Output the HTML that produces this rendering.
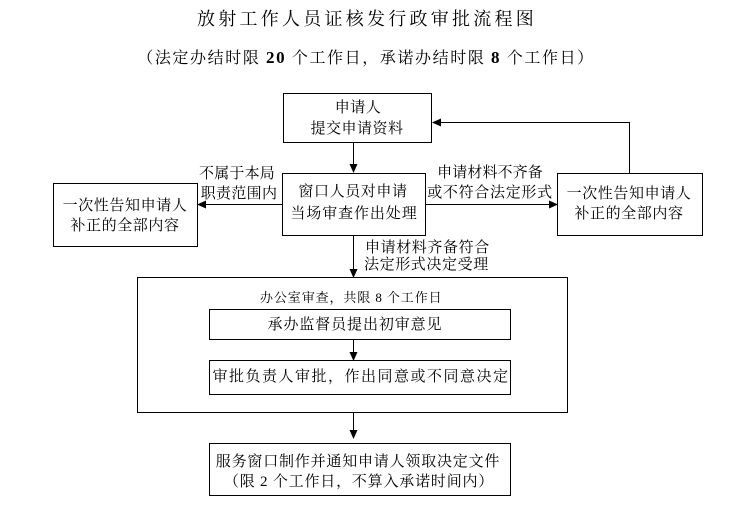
<!DOCTYPE html>
<html>
<head>
<meta charset="utf-8">
<style>
  html,body{margin:0;padding:0;background:#fff;}
  body{width:746px;height:514px;position:relative;overflow:hidden;
       font-family:"Liberation Serif","Noto Serif CJK SC",serif;color:#000;}
  svg{position:absolute;left:0;top:0;}
  .t{position:absolute;white-space:nowrap;transform:translateX(-50%);text-align:center;}
  .l{position:absolute;white-space:nowrap;}
  .b15{font-size:15px;line-height:20px;}
</style>
</head>
<body>
<svg width="746" height="514" viewBox="0 0 746 514" shape-rendering="crispEdges">
  <g fill="none" stroke="#000" stroke-width="1">
    <rect x="283.5" y="93.5" width="148" height="49"/>
    <rect x="282.5" y="173.5" width="143" height="62"/>
    <rect x="53.5" y="183.5" width="144" height="63"/>
    <rect x="557.5" y="173.5" width="145" height="62"/>
    <rect x="137.5" y="277.5" width="430" height="135"/>
    <rect x="209.5" y="309.5" width="301" height="30"/>
    <rect x="209.5" y="360.5" width="301" height="34"/>
    <rect x="209.5" y="443.5" width="301" height="52"/>
    <!-- connectors -->
    <line x1="353.5" y1="143" x2="353.5" y2="165"/>
    <line x1="282" y1="204.5" x2="204" y2="204.5"/>
    <line x1="426" y1="204.5" x2="550" y2="204.5"/>
    <polyline points="629.5,173 629.5,122.5 439,122.5"/>
    <line x1="353.5" y1="236" x2="353.5" y2="270"/>
    <line x1="353.5" y1="340" x2="353.5" y2="353"/>
    <line x1="353.5" y1="413" x2="353.5" y2="431"/>
  </g>
  <g fill="#000" shape-rendering="geometricPrecision">
    <polygon points="349.5,164 357.5,164 353.5,173"/>
    <polygon points="206,200.5 206,208.5 197,204.5"/>
    <polygon points="549,200.5 549,208.5 558,204.5"/>
    <polygon points="441,118.5 441,126.5 432,122.5"/>
    <polygon points="349.5,269 357.5,269 353.5,278"/>
    <polygon points="349.5,352 357.5,352 353.5,361"/>
    <polygon points="349.5,430 357.5,430 353.5,439"/>
  </g>
</svg>

<!-- title -->
<div class="t" style="left:367px;top:8px;font-size:18px;line-height:22px;letter-spacing:3.25px;">放射工作人员证核发行政审批流程图</div>
<div class="t" style="left:366px;top:47px;font-size:16px;line-height:22px;letter-spacing:1.6px;">（法定办结时限 <b style="font-size:17px;">20</b> 个工作日，承诺办结时限 <b style="font-size:17px;">8</b> 个工作日）</div>

<!-- box 1 -->
<div class="t b15" style="left:358px;top:98px;letter-spacing:0.5px;">申请人</div>
<div class="t b15" style="left:357px;top:119px;letter-spacing:0.5px;">提交申请资料</div>

<!-- box 2 -->
<div class="t b15" style="left:353px;top:182px;letter-spacing:0.6px;">窗口人员对申请</div>
<div class="t b15" style="left:354px;top:204px;letter-spacing:0.9px;">当场审查作出处理</div>

<!-- left box -->
<div class="t b15" style="left:125px;top:196px;letter-spacing:0.6px;">一次性告知申请人</div>
<div class="t b15" style="left:125px;top:216px;letter-spacing:0.6px;">补正的全部内容</div>

<!-- right box -->
<div class="t b15" style="left:629px;top:184px;letter-spacing:0.6px;">一次性告知申请人</div>
<div class="t b15" style="left:629px;top:204px;letter-spacing:0.6px;">补正的全部内容</div>

<!-- left label -->
<div class="t b15" style="left:237px;top:164px;letter-spacing:0.2px;">不属于本局</div>
<div class="t b15" style="left:239px;top:184px;letter-spacing:0.3px;">职责范围内</div>

<!-- right label -->
<div class="t b15" style="left:490px;top:163px;letter-spacing:0.1px;">申请材料不齐备</div>
<div class="t b15" style="left:490px;top:183px;letter-spacing:0.7px;">或不符合法定形式</div>

<!-- accept label -->
<div class="l b15" style="left:365px;top:238px;letter-spacing:0.6px;">申请材料齐备符合</div>
<div class="l b15" style="left:364px;top:255px;letter-spacing:0.6px;">法定形式决定受理</div>

<!-- big box -->
<div class="l" style="left:260px;top:289px;font-size:13px;line-height:18px;letter-spacing:0.9px;">办公室审查，共限 8 个工作日</div>
<div class="t b15" style="left:355px;top:315px;letter-spacing:0.9px;">承办监督员提出初审意见</div>
<div class="t b15" style="left:361px;top:367px;letter-spacing:1.5px;">审批负责人审批，作出同意或不同意决定</div>

<!-- bottom box -->
<div class="t b15" style="left:358px;top:452px;letter-spacing:0.8px;">服务窗口制作并通知申请人领取决定文件</div>
<div class="t b15" style="left:359px;top:472px;letter-spacing:0.8px;">（限 2 个工作日，不算入承诺时间内）</div>
</body>
</html>
